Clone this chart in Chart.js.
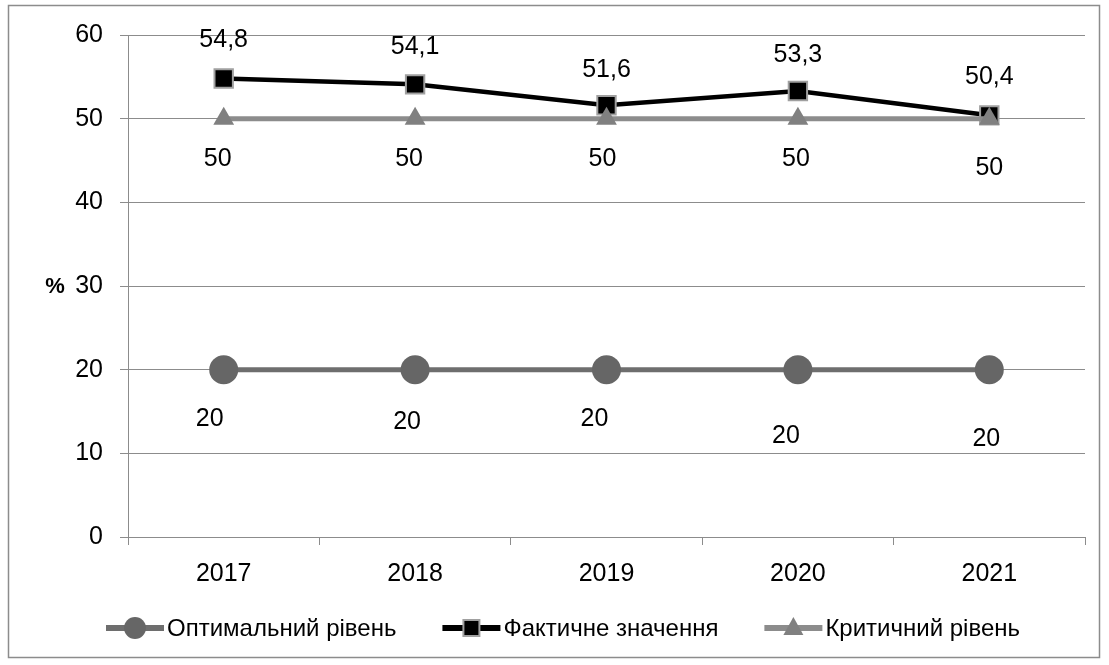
<!DOCTYPE html>
<html lang="uk">
<head>
  <meta charset="UTF-8">
  <title>Рівень показника</title>
  <script src="https://cdn.jsdelivr.net/npm/chart.js"></script>
  <style>
    html, body { margin: 0; padding: 0; background: #fff; }
    #wrap { width: 1109px; height: 665px; }
  </style>
</head>
<body>
  <div id="wrap"><canvas id="chart"></canvas></div>

  <script>
    // chart data
    const years = ['2017', '2018', '2019', '2020', '2021'];
    const optimal = [20, 20, 20, 20, 20];
    const actual = [54.8, 54.1, 51.6, 53.3, 50.4];
    const critical = [50, 50, 50, 50, 50];
    const yTicks = [0, 10, 20, 30, 40, 50, 60];

    const FONT = '"Liberation Sans", Arial, sans-serif';
    const GRID = '#8c8c8c';

    // label nudges (px) for each series, as placed in the original
    const labelShift = {
      0: [[-14, 49], [-8, 52], [-12, 49], [-12, 66], [-3, 69]],
      1: [[0, -38], [0, -37], [0, -35], [0, -36], [0, -38]],
      2: [[-6, 40], [-6, 40], [-4, 40], [-2, 40], [0, 49]]
    };

    // little marker drawn on the line of each legend entry
    const legendMarks = [
      (g, x, y) => {
        g.fillStyle = '#666';
        g.beginPath(); g.arc(x, y, 11, 0, Math.PI * 2); g.fill();
      },
      (g, x, y) => {
        g.fillStyle = '#000'; g.strokeStyle = '#a0a0a0'; g.lineWidth = 2;
        g.fillRect(x - 8, y - 8, 16, 16); g.strokeRect(x - 8, y - 8, 16, 16);
      },
      (g, x, y) => {
        g.fillStyle = '#808080';
        g.beginPath(); g.moveTo(x, y - 11); g.lineTo(x + 10, y + 7); g.lineTo(x - 10, y + 7); g.closePath(); g.fill();
      }
    ];

    const extras = {
      id: 'extras',
      afterDatasetsDraw(chart) {
        const ctx = chart.ctx;
        ctx.save();
        ctx.font = '25px ' + FONT;
        ctx.fillStyle = '#000';
        ctx.textAlign = 'center';
        ctx.textBaseline = 'middle';
        chart.data.datasets.forEach((ds, di) => {
          const meta = chart.getDatasetMeta(di);
          meta.data.forEach((pt, i) => {
            const [dx, dy] = labelShift[di][i];
            ctx.fillText(String(ds.data[i]).replace('.', ','), pt.x + dx, pt.y + dy);
          });
        });
        ctx.restore();
      },
      afterDraw(chart) {
        const ctx = chart.ctx;
        ctx.save();
        ctx.fillStyle = '#000';
        ctx.textBaseline = 'middle';

        // y title
        ctx.font = 'bold 22px ' + FONT;
        ctx.textAlign = 'center';
        ctx.fillText('%', 55, 287);

        // legend
        ctx.font = '24px ' + FONT;
        ctx.textAlign = 'left';
        const ds = chart.data.datasets;
        let x = 106;
        const y = 628;
        ds.forEach((d, i) => {
          ctx.strokeStyle = d.borderColor;
          ctx.lineWidth = 6;
          ctx.beginPath(); ctx.moveTo(x, y); ctx.lineTo(x + 58, y); ctx.stroke();
          legendMarks[i](ctx, x + 29, y);
          ctx.fillStyle = '#000';
          ctx.fillText(d.label, x + 61, y + 1);
          x += 61 + ctx.measureText(d.label).width + 46;
        });

        // outer frame
        ctx.strokeStyle = GRID;
        ctx.lineWidth = 1.5;
        ctx.strokeRect(8.5, 5.5, 1091, 652);
        ctx.restore();
      }
    };

    new Chart(document.getElementById('chart'), {
      type: 'line',
      data: {
        labels: years,
        datasets: [
          {
            label: 'Оптимальний рівень',
            data: optimal,
            borderColor: '#6e6e6e',
            borderWidth: 5,
            pointStyle: 'circle',
            pointRadius: 14.5,
            pointBackgroundColor: '#666',
            pointBorderWidth: 0,
            order: 2
          },
          {
            label: 'Фактичне значення',
            data: actual,
            borderColor: '#000',
            borderWidth: 4.5,
            pointStyle: 'rect',
            pointRadius: 13,
            pointBackgroundColor: '#000',
            pointBorderColor: '#a0a0a0',
            pointBorderWidth: 2,
            order: 1
          },
          {
            label: 'Критичний рівень',
            data: critical,
            borderColor: '#8c8c8c',
            borderWidth: 5,
            pointStyle: 'triangle',
            pointRadius: 12,
            pointBackgroundColor: '#808080',
            pointBorderWidth: 0,
            order: 0
          }
        ]
      },
      options: {
        responsive: true,
        maintainAspectRatio: false,
        animation: false,
        layout: { padding: { top: 35, left: 8, right: 24, bottom: 68 } },
        scales: {
          x: {
            offset: true,
            afterFit: s => { s.height = 60; },
            grid: { offset: true, drawOnChartArea: false, color: GRID, tickLength: 8 },
            border: { color: GRID },
            ticks: { color: '#000', font: { family: FONT, size: 25 }, padding: 14 }
          },
          y: {
            min: 0,
            max: 60,
            afterFit: s => { s.width = 120; },
            afterBuildTicks: s => { s.ticks = yTicks.map(v => ({ value: v })); },
            grid: { color: GRID, tickLength: 8 },
            border: { color: GRID },
            ticks: { color: '#000', font: { family: FONT, size: 25 }, padding: 17 }
          }
        },
        plugins: {
          tooltip: { enabled: false },
          legend: { display: false }
        }
      },
      plugins: [extras]
    });
  </script>
</body>
</html>
